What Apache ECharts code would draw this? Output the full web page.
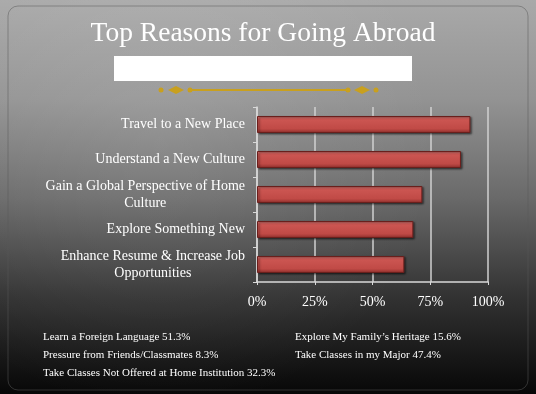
<!DOCTYPE html>
<html>
<head>
<meta charset="utf-8">
<script src="https://cdn.jsdelivr.net/npm/echarts@6/dist/echarts.min.js"></script>
<style>
html,body{margin:0;padding:0;background:#000;}
#chart{width:536px;height:394px;}
</style>
</head>
<body>
<div id="chart"></div>
<script>
var titleText = 'Top Reasons for Going Abroad';
var categories = [
  'Travel to a New Place',
  'Understand a New Culture',
  'Gain a Global Perspective of Home\nCulture',
  'Explore Something New',
  'Enhance Resume & Increase Job\nOpportunities'
];
var values = [92.4, 88.3, 71.6, 67.7, 63.8];
var tickLabels = ['0%', '25%', '50%', '75%', '100%'];
var otherLeft = ['Learn a Foreign Language 51.3%', 'Pressure from Friends/Classmates 8.3%', 'Take Classes Not Offered at Home Institution 32.3%'];
var otherRight = ['Explore My Family\u2019s Heritage 15.6%', 'Take Classes in my Major 47.4%'];

var serif = 'Liberation Serif';
var chart = echarts.init(document.getElementById('chart'), null, {renderer: 'canvas'});

var graphics = [
  {type: 'rect', z: -10, shape: {x: 0, y: 0, width: 536, height: 394},
   style: {fill: {type: 'linear', x: 0, y: 0, x2: 0, y2: 1, colorStops: [
     {offset: 0, color: '#a9a9a9'}, {offset: 0.25, color: '#939393'}, {offset: 0.5, color: '#6a6a6a'},
     {offset: 0.75, color: '#333333'}, {offset: 1, color: '#070707'}]}}},
  {type: 'rect', z: -9, shape: {x: 0, y: 0, width: 536, height: 394},
   style: {fill: {type: 'radial', x: 0.3, y: 0.35, r: 0.7, colorStops: [
     {offset: 0, color: 'rgba(255,255,255,0.10)'}, {offset: 1, color: 'rgba(255,255,255,0)'}]}}},
  {type: 'rect', z: -8, shape: {x: 8, y: 6, width: 520, height: 384, r: 10},
   style: {fill: 'none', stroke: 'rgba(90,90,90,0.5)', lineWidth: 1}},
  {type: 'text', x: 263, y: 34, style: {text: titleText, fill: '#ffffff', font: '27.5px "Liberation Serif", serif', align: 'center', verticalAlign: 'middle'}},
  {type: 'rect', shape: {x: 114, y: 56, width: 298, height: 25}, style: {fill: '#ffffff'}},
  {type: 'line', shape: {x1: 190, y1: 90, x2: 348, y2: 90}, style: {stroke: '#c9a01e', lineWidth: 2}},
  {type: 'circle', shape: {cx: 161, cy: 90, r: 2.5}, style: {fill: '#c9a01e'}},
  {type: 'circle', shape: {cx: 190, cy: 90, r: 2.5}, style: {fill: '#c9a01e'}},
  {type: 'circle', shape: {cx: 348, cy: 90, r: 2.5}, style: {fill: '#c9a01e'}},
  {type: 'circle', shape: {cx: 376, cy: 90, r: 2.5}, style: {fill: '#c9a01e'}},
  {type: 'polygon', shape: {points: [[168, 90], [176, 86], [184, 90], [176, 94]]}, style: {fill: '#c9a01e'}},
  {type: 'polygon', shape: {points: [[354, 90], [362, 86], [370, 90], [362, 94]]}, style: {fill: '#c9a01e'}}
];
otherLeft.forEach(function (t, i) {
  graphics.push({type: 'text', x: 43, y: 337 + i * 18,
    style: {text: t, fill: '#ffffff', font: '11px "Liberation Serif", serif', verticalAlign: 'middle'}});
});
otherRight.forEach(function (t, i) {
  graphics.push({type: 'text', x: 295, y: 337 + i * 18,
    style: {text: t, fill: '#ffffff', font: '11px "Liberation Serif", serif', verticalAlign: 'middle'}});
});

chart.setOption({
  animation: false,
  graphic: graphics,
  grid: {left: 257, right: 48, top: 107, bottom: 112, containLabel: false},
  xAxis: {
    type: 'value', min: 0, max: 100, interval: 25,
    axisLine: {show: true, lineStyle: {color: '#d9d9d9', width: 1.5}},
    axisTick: {show: true, length: 3, lineStyle: {color: '#d9d9d9'}},
    splitLine: {show: true, lineStyle: {color: '#d0d0d0', width: 1.5}},
    axisLabel: {color: '#ffffff', fontFamily: serif, fontSize: 14, margin: 13,
      formatter: function (v) { return tickLabels[Math.round(v / 25)]; }}
  },
  yAxis: {
    type: 'category', inverse: true, data: categories,
    axisLine: {show: true, lineStyle: {color: '#d9d9d9', width: 1.5}},
    axisTick: {show: true, length: 4, lineStyle: {color: '#d9d9d9'}},
    axisLabel: {color: '#ffffff', fontFamily: serif, fontSize: 14, margin: 12, lineHeight: 17,
      formatter: function (v) { return v.split('\n').map(function (l) { return '{c|' + l + '}'; }).join('\n'); },
      rich: {c: {align: 'center', color: '#ffffff', fontFamily: serif, fontSize: 14, lineHeight: 17}}}
  },
  series: [{
    type: 'bar', data: values, barWidth: 17,
    itemStyle: {
      color: {type: 'linear', x: 0, y: 0, x2: 0, y2: 1, colorStops: [
        {offset: 0, color: '#e07a76'}, {offset: 0.2, color: '#cc5652'}, {offset: 0.75, color: '#c04a46'}, {offset: 1, color: '#8e2e2b'}]},
      borderColor: '#6a1f1c', borderWidth: 1,
      shadowColor: 'rgba(0,0,0,0.5)', shadowBlur: 2, shadowOffsetX: 1.5, shadowOffsetY: 1
    }
  }]
});
</script>
</body>
</html>
